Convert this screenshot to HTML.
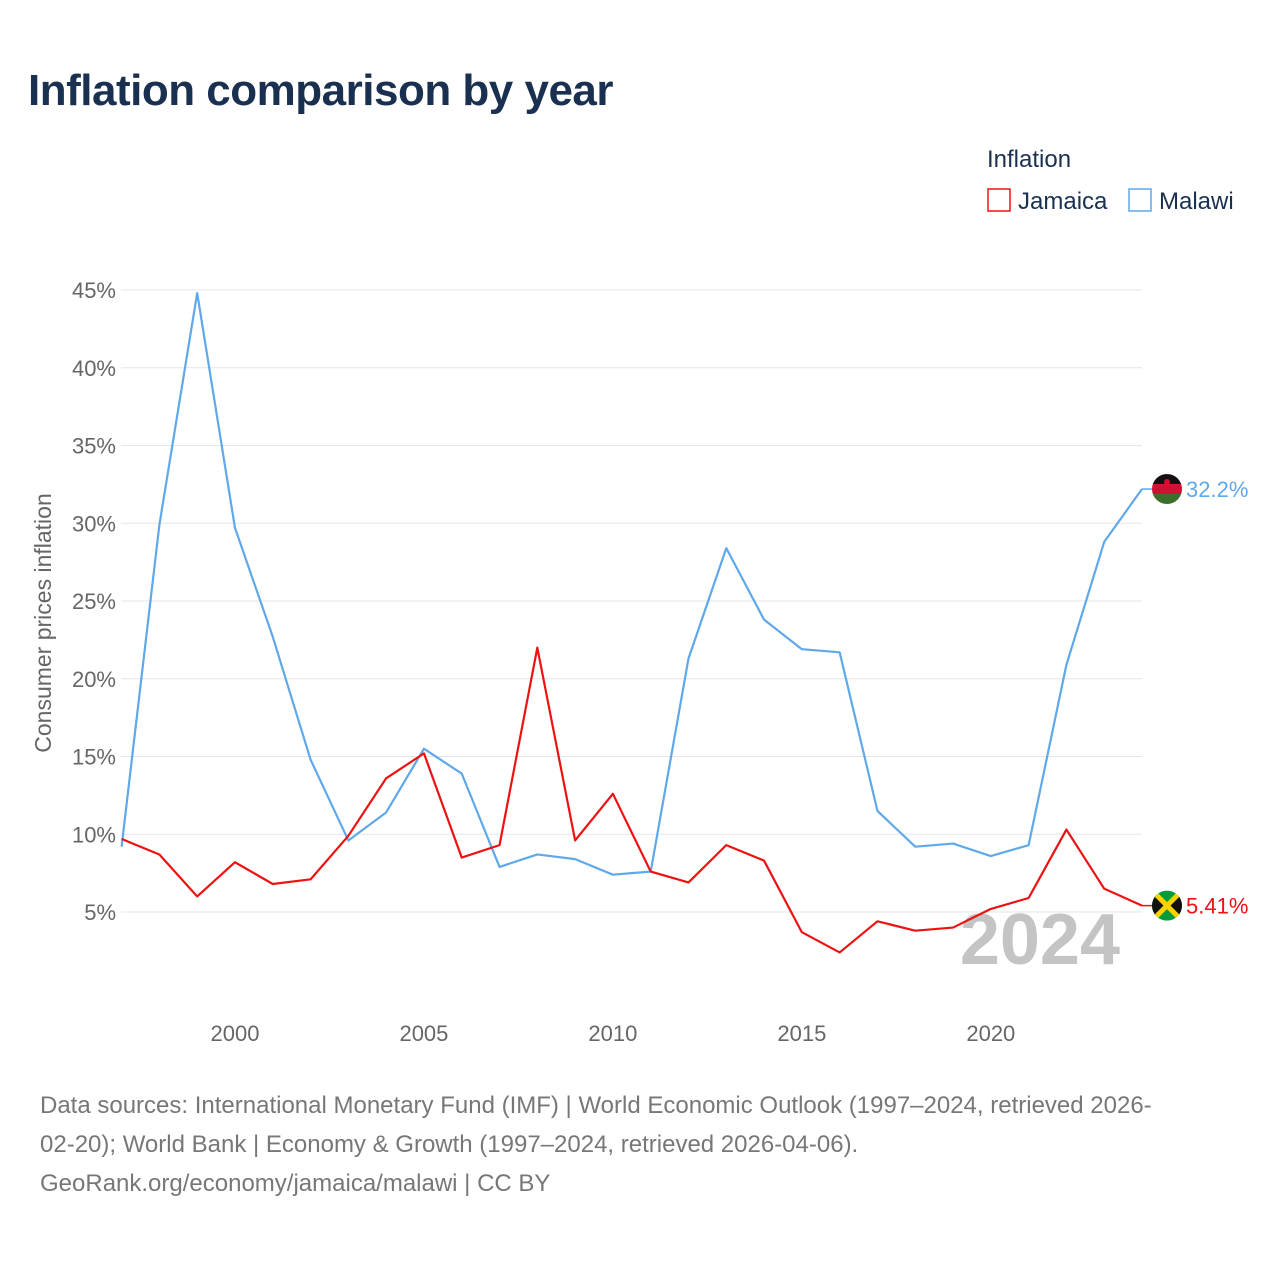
<!DOCTYPE html>
<html><head><meta charset="utf-8">
<style>
html,body{margin:0;padding:0;background:#fff;}
body{width:1280px;height:1280px;position:relative;font-family:"Liberation Sans",sans-serif;overflow:hidden;}
h1{position:absolute;left:28px;top:66px;margin:0;font-size:44px;font-weight:bold;color:#1a3050;letter-spacing:-0.5px;}
.src{position:absolute;left:40px;top:1086px;width:1230px;font-size:24px;line-height:39px;color:#777;white-space:nowrap;}
</style></head><body>
<h1>Inflation comparison by year</h1>
<svg id="chart" width="1280" height="1080" style="position:absolute;left:0;top:0" font-family="Liberation Sans, sans-serif"></svg>
<div class="src">Data sources: International Monetary Fund (IMF) | World Economic Outlook (1997–2024, retrieved 2026-<br>02-20); World Bank | Economy &amp; Growth (1997–2024, retrieved 2026-04-06).<br>GeoRank.org/economy/jamaica/malawi | CC BY</div>
<script>
const years=[1997,1998,1999,2000,2001,2002,2003,2004,2005,2006,2007,2008,2009,2010,2011,2012,2013,2014,2015,2016,2017,2018,2019,2020,2021,2022,2023,2024];
const malawi=[9.2,29.9,44.8,29.7,22.7,14.8,9.6,11.4,15.5,13.9,7.9,8.7,8.4,7.4,7.6,21.3,28.4,23.8,21.9,21.7,11.5,9.2,9.4,8.6,9.3,20.9,28.8,32.2];
const jamaica=[9.7,8.7,6.0,8.2,6.8,7.1,9.9,13.6,15.2,8.5,9.3,22.0,9.6,12.6,7.6,6.9,9.3,8.3,3.7,2.4,4.4,3.8,4.0,5.2,5.9,10.3,6.5,5.41];
const yTicks=[5,10,15,20,25,30,35,40,45];
const xTicks=[2000,2005,2010,2015,2020];
const NS="http://www.w3.org/2000/svg";
const svg=document.getElementById('chart');
const X=y=>121.6+(y-1997)*(1142-121.6)/27;
const Y=v=>989.75-v*15.55;
function mk(t,a,txt){const e=document.createElementNS(NS,t);for(const k in a)e.setAttribute(k,a[k]);if(txt!=null)e.textContent=txt;svg.appendChild(e);return e;}
yTicks.forEach(t=>{
  const l=mk('line',{x1:121,x2:1142,y1:Y(t),y2:Y(t),stroke:'#e6e6e6','stroke-width':1});
  
  
  const tx=mk('text',{x:116,y:Y(t)+8,'text-anchor':'end','font-size':22,fill:'#666'},t+'%');
  
  
});
xTicks.forEach(t=>{
  const tx=mk('text',{x:X(t),y:1041,'text-anchor':'middle','font-size':22,fill:'#666'},String(t));
  
  
});
const yt=mk('text',{x:0,y:0,transform:'translate(51,623) rotate(-90)','text-anchor':'middle','font-size':23,fill:'#666'},'Consumer prices inflation');


const yr=mk('text',{x:1120,y:964,'text-anchor':'end','font-size':72,'font-weight':'bold',fill:'#c4c4c4'},'2024');


function line(vals,color,name){
  const p=mk('polyline',{points:vals.map((v,i)=>X(years[i])+','+Y(v)).join(' '),fill:'none',stroke:color,'stroke-width':2.2,'stroke-linejoin':'round'});
  
  
}
line(malawi,'#5fa8ea','malawi-line');
line(jamaica,'#ee1111','jamaica-line');
function endMark(vals,color,name,flag){
  const v=vals[vals.length-1],x=X(years[years.length-1]),y=Y(v);
  mk('line',{x1:x,x2:x+12,y1:y,y2:y,stroke:color,'stroke-width':1.5});
  const g=document.createElementNS(NS,'g');svg.appendChild(g);
  
  
  g.innerHTML=flag(x+25,y);
  const t=mk('text',{x:x+44,y:y+8,'font-size':22,fill:color},(v===5.41?'5.41':v.toFixed(1))+'%');
  
  
}
endMark(malawi,'#5fa8ea','malawi',(cx,cy)=>`<clipPath id="cm"><circle cx="${cx}" cy="${cy}" r="15"/></clipPath><g clip-path="url(#cm)"><rect x="${cx-15}" y="${cy-15}" width="30" height="10" fill="#111"/><rect x="${cx-15}" y="${cy-5}" width="30" height="10" fill="#d21034"/><rect x="${cx-15}" y="${cy+5}" width="30" height="10" fill="#3a6e2a"/><circle cx="${cx}" cy="${cy-7}" r="3" fill="#d21034"/></g>`);
endMark(jamaica,'#ee1111','jamaica',(cx,cy)=>`<clipPath id="cj"><circle cx="${cx}" cy="${cy}" r="15"/></clipPath><g clip-path="url(#cj)"><rect x="${cx-15}" y="${cy-15}" width="30" height="30" fill="#009b3a"/><polygon points="${cx-15},${cy-15} ${cx},${cy} ${cx-15},${cy+15}" fill="#111"/><polygon points="${cx+15},${cy-15} ${cx},${cy} ${cx+15},${cy+15}" fill="#111"/><line x1="${cx-15}" y1="${cy-15}" x2="${cx+15}" y2="${cy+15}" stroke="#fed100" stroke-width="5"/><line x1="${cx+15}" y1="${cy-15}" x2="${cx-15}" y2="${cy+15}" stroke="#fed100" stroke-width="5"/></g>`);
const lt=mk('text',{x:987,y:167,'font-size':24,fill:'#1a3050'},'Inflation');


[['Jamaica','#ee1111',987],['Malawi','#5fa8ea',1128]].forEach(([n,c,x])=>{
  const r=mk('rect',{x:x+1,y:189,width:22,height:22,fill:'none',stroke:c,'stroke-width':1.5});
  
  
  const t=mk('text',{x:x+31,y:209,'font-size':24,fill:'#1a3050'},n);
  
  
});
</script>
</body></html>
